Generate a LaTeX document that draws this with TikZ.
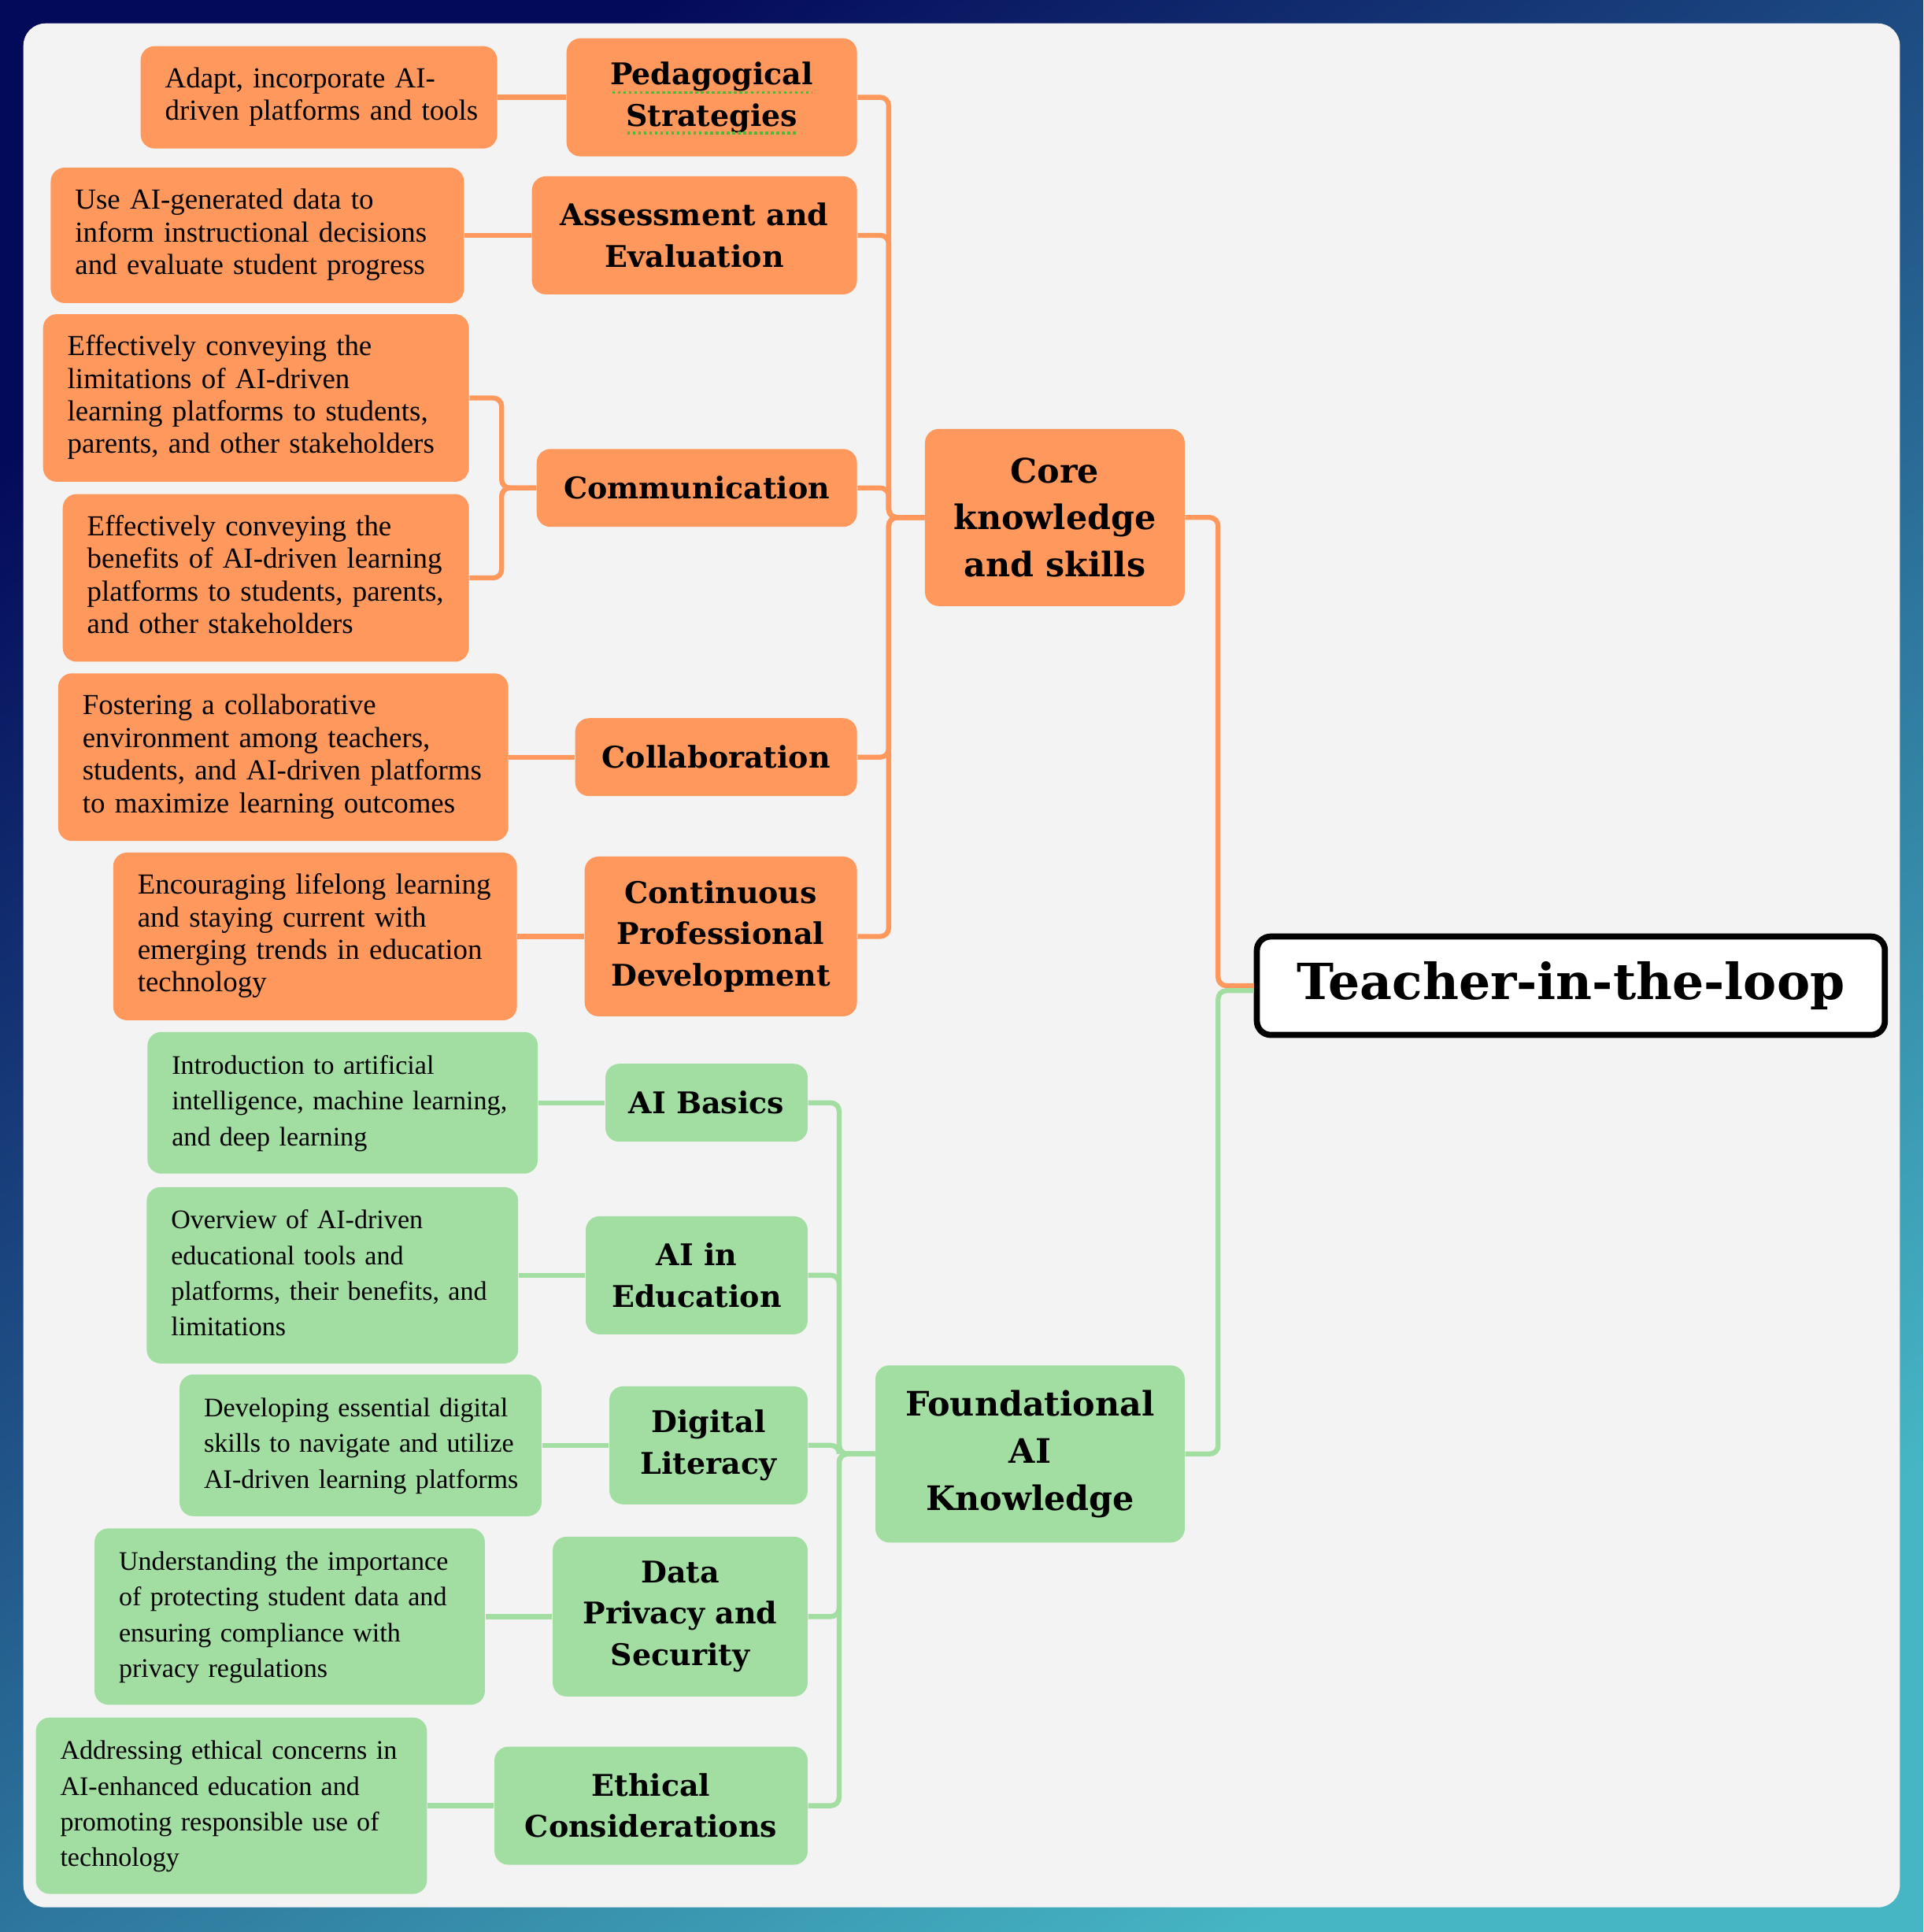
\documentclass[tikz,border=0pt]{standalone}
\usepackage{fontspec}
\setmainfont{Liberation Serif}
\newfontfamily\headfont{DejaVu Serif}
\usepackage{xcolor}
\usepackage{tikz}
\definecolor{myorange}{RGB}{255,152,92}
\definecolor{mygreen}{RGB}{162,221,162}
\definecolor{mypanel}{RGB}{243,243,243}
\definecolor{bgtop}{RGB}{4,10,90}
\definecolor{bgmid}{RGB}{30,90,168}
\definecolor{bgbot}{RGB}{70,182,196}
\definecolor{spellgreen}{RGB}{80,185,60}
\newcommand{\leaftext}[1]{\begin{tabular}{@{}l@{}}#1\end{tabular}}
\tikzset{
  root/.style={rectangle, draw=black, fill=white, line width=2.2pt,
    rounded corners=5pt, minimum width=7.98cm, minimum height=1.25cm,
    font=\headfont\bfseries\fontsize{18}{22}\selectfont},
  hub/.style={rectangle, fill=#1, rounded corners=5pt, align=center,
    minimum height=2.25cm, inner sep=3pt, anchor=east,
    font=\headfont\bfseries\fontsize{12.2}{17}\selectfont},
  topic/.style={rectangle, fill=#1, rounded corners=5pt, align=center,
    inner sep=3pt, anchor=east,
    font=\headfont\bfseries\fontsize{10.8}{14.9}\selectfont},
  one/.style={minimum height=0.99cm},
  two/.style={minimum height=1.50cm},
  three/.style={minimum height=2.03cm},
  leafo/.style={rectangle, fill=myorange, rounded corners=5pt, align=left,
    inner xsep=0.31cm, inner ysep=2pt, anchor=east, text width=#1,
    font=\fontsize{10.5}{11.8}\selectfont},
  leafg/.style={rectangle, fill=mygreen, rounded corners=5pt, align=left,
    inner xsep=0.31cm, inner ysep=2pt, anchor=east, text width=#1,
    font=\fontsize{9.7}{12.9}\selectfont},
  link/.style={line width=1.8pt, rounded corners=3pt, draw=#1}
}

\begin{document}
\begin{tikzpicture}[x=0.01565cm, y=-0.01565cm]
    \useasboundingbox (0,0) rectangle (1561,1568);
    \shade[top color=bgtop, middle color=bgmid, bottom color=bgbot, shading angle=35] (0,0) rectangle (1561,1568);
    \fill[mypanel, rounded corners=0.28cm] (19,19) rectangle (1542,1548);

    \node[root] (root) at (1275,800) {Teacher-in-the-loop};
    \node[hub=myorange, minimum width=3.30cm] (core) at (962,420) {Core\\knowledge\\and skills};
    \node[hub=mygreen, minimum width=3.93cm] (found) at (962,1180) {Foundational\\AI\\Knowledge};

    \node[topic=myorange, two, minimum width=3.69cm] (ped) at (696,79) {Pedagogical\\Strategies};
    \node[topic=myorange, two, minimum width=4.13cm] (ass) at (696,191) {Assessment and\\Evaluation};
    \node[topic=myorange, one, minimum width=4.07cm] (com) at (696,396) {Communication};
    \node[topic=myorange, one, minimum width=3.58cm] (col) at (696,614.5) {Collaboration};
    \node[topic=myorange, three, minimum width=3.46cm] (cpd) at (696,760) {Continuous\\Professional\\Development};

    \node[topic=mygreen, one, minimum width=2.57cm] (bas) at (656,895) {AI Basics};
    \node[topic=mygreen, two, minimum width=2.82cm] (edu) at (656,1035) {AI in\\Education};
    \node[topic=mygreen, two, minimum width=2.52cm] (dig) at (656,1173) {Digital\\Literacy};
    \node[topic=mygreen, three, minimum width=3.24cm] (dat) at (656,1312) {Data\\Privacy and\\Security};
    \node[topic=mygreen, two, minimum width=3.98cm] (eth) at (656,1465.5) {Ethical\\Considerations};

    \draw[spellgreen, densely dotted, line width=1pt] (497,75) -- (659,75);
    \draw[spellgreen, densely dotted, line width=1pt] (509,108) -- (648,108);

    \node[leafo=3.91cm, minimum height=1.30cm] (lped) at (404,79) {\leaftext{Adapt, incorporate AI-\\driven platforms and tools}};
    \node[leafo=4.63cm, minimum height=1.72cm] (lass) at (377,191) {\leaftext{Use AI-generated data to\\inform instructional decisions\\and evaluate student progress}};
    \node[leafo=4.79cm, minimum height=2.13cm] (lcom1) at (381,323) {\leaftext{Effectively conveying the\\limitations of AI-driven\\learning platforms to students,\\parents, and other stakeholders}};
    \node[leafo=4.54cm, minimum height=2.13cm] (lcom2) at (381,469) {\leaftext{Effectively conveying the\\benefits of AI-driven learning\\platforms to students, parents,\\and other stakeholders}};
    \node[leafo=5.10cm, minimum height=2.13cm] (lcol) at (413,614.5) {\leaftext{Fostering a collaborative\\environment among teachers,\\students, and AI-driven platforms\\to maximize learning outcomes}};
    \node[leafo=4.51cm, minimum height=2.13cm] (lcpd) at (420,760) {\leaftext{Encouraging lifelong learning\\and staying current with\\emerging trends in education\\technology}};

    \node[leafg=4.34cm, minimum height=1.80cm] (lbas) at (437,895) {\leaftext{Introduction to artificial\\intelligence, machine learning,\\and deep learning}};
    \node[leafg=4.10cm, minimum height=2.24cm] (ledu) at (421,1035) {\leaftext{Overview of AI-driven\\educational tools and\\platforms, their benefits, and\\limitations}};
    \node[leafg=3.98cm, minimum height=1.80cm] (ldig) at (440,1173) {\leaftext{Developing essential digital\\skills to navigate and utilize\\AI-driven learning platforms}};
    \node[leafg=4.34cm, minimum height=2.24cm] (ldat) at (394,1312) {\leaftext{Understanding the importance\\of protecting student data and\\ensuring compliance with\\privacy regulations}};
    \node[leafg=4.35cm, minimum height=2.24cm] (leth) at (347,1465.5) {\leaftext{Addressing ethical concerns in\\AI-enhanced education and\\promoting responsible use of\\technology}};

    \draw[link=myorange] (root.west) -- ++(-29,0) |- (core.east);
    \draw[link=mygreen] (root.west) ++(0,4) -- ++(-29,0) |- (found.east);

    \foreach \t in {ped,ass,com,col,cpd}
      \draw[link=myorange] (core.west) -- ++(-29,0) |- (\t.east);
    \foreach \t in {bas,edu,dig,dat,eth}
      \draw[link=mygreen] (found.west) -- ++(-29,0) |- (\t.east);

    \draw[link=myorange] (ped.west) -- (lped.east);
    \draw[link=myorange] (ass.west) -- (lass.east);
    \draw[link=myorange] (com.west) -- ++(-28,0) |- (lcom1.east);
    \draw[link=myorange] (com.west) -- ++(-28,0) |- (lcom2.east);
    \draw[link=myorange] (col.west) -- (lcol.east);
    \draw[link=myorange] (cpd.west) -- (lcpd.east);

    \draw[link=mygreen] (bas.west) -- (lbas.east);
    \draw[link=mygreen] (edu.west) -- (ledu.east);
    \draw[link=mygreen] (dig.west) -- (ldig.east);
    \draw[link=mygreen] (dat.west) -- (ldat.east);
    \draw[link=mygreen] (eth.west) -- (leth.east);
\end{tikzpicture}
\end{document}
